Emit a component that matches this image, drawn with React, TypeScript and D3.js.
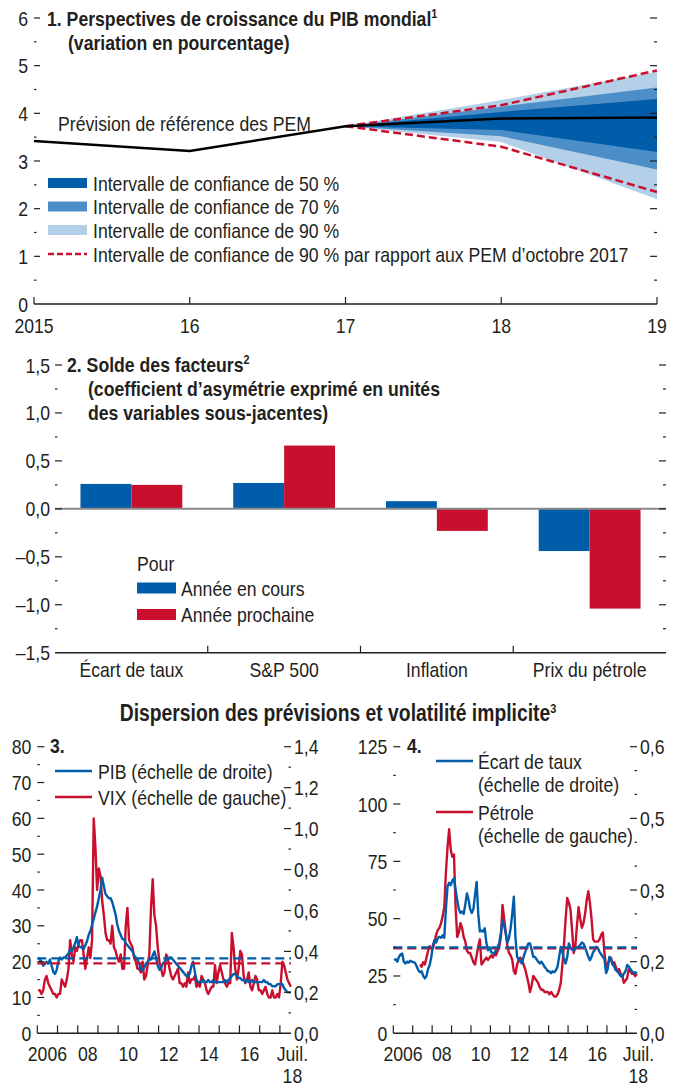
import { useEffect, useRef } from 'react';
import * as d3 from 'd3';

// No condensed face is installed, so Liberation Sans is squeezed horizontally after layout
const FONT = '"Liberation Sans", Arial, sans-serif';
const SQUEEZE = 0.84;
const INK = '#231f20';
const BLUE_DARK = '#005DAA';
const BLUE_MID = '#4C8FC8';
const BLUE_LIGHT = '#B4D0E8';
const RED = '#C8102E';
const GREY = '#8a8a8a';
const FS = 21;

// Panel 1: world GDP growth outlook
const P1_YEARS = [2015, 2016, 2017, 2018, 2019];
const P1_YEAR_LABELS = ['2015', '16', '17', '18', '19'];
const P1_BASELINE = [3.42, 3.21, 3.73, 3.89, 3.91];
const FAN_YEARS = [2017, 2018, 2019];
const CI90_LO = [3.73, 3.40, 2.20];
const CI90_HI = [3.73, 4.28, 4.87];
const CI70_LO = [3.73, 3.52, 2.82];
const CI70_HI = [3.73, 4.14, 4.54];
const CI50_LO = [3.73, 3.65, 3.19];
const CI50_HI = [3.73, 4.03, 4.30];
const OCT17_LO = [3.73, 3.30, 2.35];
const OCT17_HI = [3.73, 4.17, 4.90];
const P1_LEGEND = [
  'Intervalle de confiance de 50 %',
  'Intervalle de confiance de 70 %',
  'Intervalle de confiance de 90 %',
  'Intervalle de confiance de 90 % par rapport aux PEM d’octobre 2017',
];

// Panel 2: balance of risks
const P2_CATEGORIES = ['Écart de taux', 'S&P 500', 'Inflation', 'Prix du pétrole'];
const P2_SERIES = ['Année en cours', 'Année prochaine'];
const P2_CURRENT = [0.26, 0.27, 0.08, -0.44];
const P2_NEXT = [0.25, 0.66, -0.23, -1.04];

// Panels 3 and 4: monthly, Jan 2006 to Jul 2018
const X_TICK_YEARS = d3.range(2006, 2019);
const X_LABELS = ['2006', '08', '10', '12', '14', '16'];
const X_LABEL_YEARS = [2006, 2008, 2010, 2012, 2014, 2016];

const P3_LEFT_TICKS = [0, 10, 20, 30, 40, 50, 60, 70, 80];
const P3_RIGHT_TICKS = [0, 0.2, 0.4, 0.6, 0.8, 1.0, 1.2, 1.4];
const P3_RIGHT_LABELS = ['0,0', '0,2', '0,4', '0,6', '0,8', '1,0', '1,2', '1,4'];
const P4_LEFT_TICKS = [0, 25, 50, 75, 100, 125];
const P4_RIGHT_TICKS = [0, 0.15, 0.3, 0.45, 0.6];
const P4_RIGHT_LABELS = ['0,0', '0,2', '0,3', '0,5', '0,6'];

const VIX = [
  12, 12, 11, 12, 15, 16, 14, 13, 12, 11, 11, 10,
  11, 11, 15, 14, 13, 15, 18, 26, 22, 20, 24, 23,
  25, 26, 26, 22, 18, 21, 24, 21, 26, 60, 52, 40,
  46, 44, 37, 33, 28, 26, 26, 25, 30, 24, 23, 21,
  20, 22, 18, 18, 30, 35, 26, 25, 24, 21, 20, 18,
  18, 17, 20, 15, 16, 19, 22, 35, 43, 33, 30, 24,
  20, 18, 16, 17, 22, 21, 18, 16, 15, 16, 17, 18,
  14, 14, 13, 14, 13, 17, 14, 15, 15, 16, 13, 14,
  13, 16, 15, 14, 12, 11, 12, 13, 13, 19, 14, 17,
  19, 17, 15, 14, 13, 14, 14, 28, 24, 18, 15, 18,
  23, 22, 16, 14, 15, 17, 13, 12, 14, 16, 15, 12,
  12, 11, 12, 13, 11, 10, 10, 12, 10, 10, 11, 10,
  14, 20, 19, 17, 15, 14, 13,
];
const PIB = [
  0.37, 0.36, 0.35, 0.33, 0.34, 0.35, 0.34, 0.36, 0.33, 0.30, 0.29, 0.31,
  0.35, 0.37, 0.36, 0.37, 0.37, 0.38, 0.39, 0.41, 0.40, 0.42, 0.44, 0.47,
  0.43, 0.42, 0.42, 0.41, 0.43, 0.45, 0.48, 0.50, 0.53, 0.56, 0.59, 0.62,
  0.66, 0.70, 0.76, 0.72, 0.68, 0.67, 0.66, 0.66, 0.64, 0.61, 0.58, 0.53,
  0.50, 0.48, 0.46, 0.46, 0.44, 0.43, 0.42, 0.41, 0.40, 0.38, 0.37, 0.36,
  0.34, 0.31, 0.31, 0.32, 0.34, 0.35, 0.36, 0.36, 0.38, 0.40, 0.37, 0.33,
  0.31, 0.32, 0.34, 0.35, 0.36, 0.36, 0.37, 0.37, 0.36, 0.35, 0.34, 0.33,
  0.32, 0.31, 0.30, 0.29, 0.28, 0.28, 0.29, 0.33, 0.35, 0.30, 0.26, 0.25,
  0.25, 0.25, 0.26, 0.25, 0.25, 0.26, 0.25, 0.25, 0.26, 0.25, 0.25, 0.25,
  0.25, 0.25, 0.25, 0.26, 0.25, 0.26, 0.27, 0.28, 0.29, 0.29, 0.28, 0.27,
  0.27, 0.26, 0.26, 0.25, 0.26, 0.25, 0.25, 0.26, 0.25, 0.25, 0.25, 0.25,
  0.25, 0.25, 0.26, 0.25, 0.25, 0.24, 0.24, 0.23, 0.23, 0.23, 0.24, 0.24,
  0.24, 0.24, 0.22, 0.21, 0.20, 0.20, 0.20,
];
const VIX_AVG = 19.5;
const PIB_AVG = 0.366;

const OIL = [
  null, null, null, null, null, null, null, null, null, null, null, null,
  null, null, null, null, 30, 29, 31, 30, 33, 36, 38, 37,
  37, 40, 43, 45, 46, 48, 51, 55, 70, 81, 89, 80,
  77, 78, 55, 42, 44, 48, 46, 42, 40, 36, 35, 35,
  33, 31, 30, 34, 38, 41, 30, 31, 32, 33, 32, 33,
  34, 33, 35, 34, 36, 38, 42, 56, 50, 44, 38, 35,
  34, 32, 27, 26, 30, 32, 33, 32, 30, 28, 25, 22,
  18, 21, 25, 24, 23, 22, 20, 19, 19, 18, 18, 18,
  17, 18, 17, 16, 16, 17, 19, 22, 30, 39, 50, 59,
  57, 54, 45, 35, 38, 47, 55, 50, 46, 48, 52, 58,
  62, 57, 50, 41, 40, 40, 40, 41, 43, 44, 35, 29,
  30, 32, 33, 30, 31, 29, 27, 28, 26, 25, 22, 23,
  24, 28, 27, 26, 26, 25, 26,
];
const SPREAD = [
  0.153, 0.155, 0.150, 0.160, 0.165, 0.167, 0.150, 0.146, 0.150, 0.148, 0.152, 0.150,
  0.149, 0.147, 0.140, 0.132, 0.128, 0.130, 0.120, 0.115, 0.120, 0.135, 0.143, 0.160,
  0.185, 0.195, 0.190, 0.200, 0.202, 0.200, 0.205, 0.200, 0.260, 0.307, 0.315, 0.310,
  0.320, 0.324, 0.300, 0.279, 0.260, 0.252, 0.255, 0.250, 0.270, 0.293, 0.280, 0.260,
  0.252, 0.260, 0.290, 0.317, 0.250, 0.213, 0.215, 0.213, 0.220, 0.190, 0.174, 0.180,
  0.170, 0.168, 0.167, 0.175, 0.180, 0.190, 0.210, 0.237, 0.225, 0.209, 0.190, 0.200,
  0.220, 0.250, 0.286, 0.200, 0.160, 0.155, 0.150, 0.146, 0.160, 0.170, 0.180, 0.188,
  0.188, 0.175, 0.160, 0.160, 0.155, 0.150, 0.146, 0.150, 0.145, 0.139, 0.135, 0.130,
  0.130, 0.126, 0.130, 0.128, 0.132, 0.140, 0.160, 0.181, 0.170, 0.155, 0.146, 0.160,
  0.188, 0.180, 0.175, 0.174, 0.178, 0.180, 0.181, 0.185, 0.190, 0.188, 0.180, 0.170,
  0.160, 0.153, 0.160, 0.170, 0.175, 0.181, 0.178, 0.170, 0.165, 0.160, 0.155, 0.126,
  0.135, 0.160, 0.155, 0.145, 0.140, 0.132, 0.130, 0.125, 0.120, 0.118, 0.125, 0.130,
  0.143, 0.140, 0.135, 0.130, 0.126, 0.128, 0.125,
];
const OIL_AVG = 37;
const SPREAD_AVG = 0.18;

type Sel = d3.Selection<SVGGElement, unknown, null, undefined>;

const fmtNum = (v: number, digits: number) => {
  const s = d3.format(`.${digits}f`)(Math.abs(v)).replace('.', ',');
  return v < 0 ? `–${s}` : s;
};

function label(g: Sel, x: number, y: number, str: string, anchor = 'start', bold = false, size = FS) {
  return g.append('text')
    .attr('x', x).attr('y', y)
    .attr('text-anchor', anchor)
    .attr('font-family', FONT)
    .attr('font-size', size)
    .attr('font-weight', bold ? 700 : 400)
    .attr('fill', INK)
    .text(str);
}

function titleWithSup(g: Sel, x: number, y: number, str: string, sup: string, anchor = 'start', size = FS) {
  const t = label(g, x, y, str, anchor, true, size);
  t.append('tspan').attr('font-size', 13).attr('dy', -8).text(sup);
  return t;
}

// tick marks drawn inward from an axis at x = ax (dir = +1 right, -1 left)
function yTicks(g: Sel, scale: d3.ScaleLinear<number, number>, values: number[], ax: number, dir: number, len: number) {
  g.append('g')
    .selectAll('line')
    .data(values)
    .join('line')
    .attr('x1', ax).attr('x2', ax + dir * len)
    .attr('y1', d => scale(d)).attr('y2', d => scale(d))
    .attr('stroke', INK)
    .attr('stroke-width', 1.2);
}

function yLabels(g: Sel, scale: d3.ScaleLinear<number, number>, values: number[], x: number, anchor: string, text: (d: number, i: number) => string) {
  g.append('g')
    .selectAll('text')
    .data(values)
    .join('text')
    .attr('x', x).attr('y', d => scale(d) + 7.5)
    .attr('text-anchor', anchor)
    .attr('font-family', FONT)
    .attr('font-size', FS)
    .attr('fill', INK)
    .text((d, i) => text(d, i));
}

function drawPanel1(g: Sel) {
  const x = d3.scaleLinear().domain([2015, 2019]).range([34, 657]);
  const y = d3.scaleLinear().domain([0, 6]).range([304, 18]);

  const band = (lo: number[], hi: number[]) => d3.area<number>()
    .x(d => x(d))
    .y0((_, i) => y(lo[i]))
    .y1((_, i) => y(hi[i]));

  g.append('path').datum(FAN_YEARS).attr('d', band(CI90_LO, CI90_HI)).attr('fill', BLUE_LIGHT);
  g.append('path').datum(FAN_YEARS).attr('d', band(CI70_LO, CI70_HI)).attr('fill', BLUE_MID);
  g.append('path').datum(FAN_YEARS).attr('d', band(CI50_LO, CI50_HI)).attr('fill', BLUE_DARK);

  const fanLine = (vals: number[]) => d3.line<number>().x(d => x(d)).y((_, i) => y(vals[i]));
  [OCT17_LO, OCT17_HI].forEach(vals => {
    g.append('path').datum(FAN_YEARS).attr('d', fanLine(vals))
      .attr('fill', 'none').attr('stroke', RED).attr('stroke-width', 2.5)
      .attr('stroke-dasharray', '8,4');
  });

  g.append('path').datum(P1_YEARS)
    .attr('d', d3.line<number>().x(d => x(d)).y((_, i) => y(P1_BASELINE[i])))
    .attr('fill', 'none').attr('stroke', '#000').attr('stroke-width', 2.5);

  // axes
  const major = d3.range(1, 7);
  const minor = d3.range(0.5, 6, 1);
  yTicks(g, y, major, 34, 1, 6);
  yTicks(g, y, minor, 34, 1, 2.5);
  yTicks(g, y, major, 657, -1, 7);
  yTicks(g, y, minor, 657, -1, 3);
  yLabels(g, y, d3.range(0, 7), 28, 'end', d => `${d}`);

  g.append('line').attr('x1', 34).attr('x2', 657).attr('y1', y(0)).attr('y2', y(0))
    .attr('stroke', INK).attr('stroke-width', 1.5);
  g.append('g').selectAll('line').data(P1_YEARS).join('line')
    .attr('x1', d => x(d)).attr('x2', d => x(d))
    .attr('y1', y(0)).attr('y2', y(0) - 7)
    .attr('stroke', INK).attr('stroke-width', 1.2);
  g.append('g').selectAll('text').data(P1_YEARS).join('text')
    .attr('x', d => x(d)).attr('y', 333)
    .attr('text-anchor', 'middle')
    .attr('font-family', FONT).attr('font-size', FS).attr('fill', INK)
    .text((_, i) => P1_YEAR_LABELS[i]);

  // titles
  titleWithSup(g, 47, 26, '1. Perspectives de croissance du PIB mondial', '1');
  label(g, 68, 50, '(variation en pourcentage)', 'start', true);
  label(g, 58, 131, 'Prévision de référence des PEM');

  // legend
  const rows = [183, 206.5, 230, 254];
  const fills = [BLUE_DARK, BLUE_MID, BLUE_LIGHT];
  fills.forEach((c, i) => {
    g.append('rect').attr('x', 48).attr('y', rows[i] - 5).attr('width', 39).attr('height', 10).attr('fill', c);
  });
  g.append('line').attr('x1', 48).attr('x2', 87).attr('y1', rows[3]).attr('y2', rows[3])
    .attr('stroke', RED).attr('stroke-width', 2.5).attr('stroke-dasharray', '6,3');
  P1_LEGEND.forEach((t, i) => label(g, 93, rows[i] + 7.5, t));
}

function drawPanel2(g: Sel) {
  const x0 = d3.scaleBand().domain(P2_CATEGORIES).range([55, 666]);
  const x1 = d3.scaleBand().domain(P2_SERIES).range([0, x0.bandwidth()]).paddingOuter(0.5);
  const y = d3.scaleLinear().domain([-1.5, 1.5]).range([652.7, 365]);

  const series = [P2_CURRENT, P2_NEXT];
  const colors = [BLUE_DARK, RED];
  series.forEach((vals, si) => {
    g.append('g').selectAll('rect').data(vals).join('rect')
      .attr('x', (_, i) => (x0(P2_CATEGORIES[i]) ?? 0) + (x1(P2_SERIES[si]) ?? 0))
      .attr('width', x1.bandwidth())
      .attr('y', d => y(Math.max(0, d)))
      .attr('height', d => Math.abs(y(d) - y(0)))
      .attr('fill', colors[si]);
  });

  g.append('line').attr('x1', 55).attr('x2', 666).attr('y1', y(0)).attr('y2', y(0))
    .attr('stroke', GREY).attr('stroke-width', 2);

  const major = d3.range(-1, 1.51, 0.5);
  const minor = d3.range(-1.25, 1.5, 0.5);
  yTicks(g, y, major, 55, 1, 7);
  yTicks(g, y, minor, 55, 1, 2.5);
  yTicks(g, y, major, 666, -1, 7);
  yTicks(g, y, minor, 666, -1, 3);
  yLabels(g, y, d3.range(-1.5, 1.51, 0.5), 50, 'end', d => fmtNum(d, 1));

  g.append('line').attr('x1', 55).attr('x2', 666).attr('y1', y(-1.5)).attr('y2', y(-1.5))
    .attr('stroke', INK).attr('stroke-width', 1.5);
  g.append('g').selectAll('line').data(P2_CATEGORIES.slice(1)).join('line')
    .attr('x1', d => x0(d) ?? 0).attr('x2', d => x0(d) ?? 0)
    .attr('y1', y(-1.5)).attr('y2', y(-1.5) - 7)
    .attr('stroke', INK).attr('stroke-width', 1.2);
  g.append('g').selectAll('text').data(P2_CATEGORIES).join('text')
    .attr('x', d => (x0(d) ?? 0) + x0.bandwidth() / 2).attr('y', 677)
    .attr('text-anchor', 'middle')
    .attr('font-family', FONT).attr('font-size', FS).attr('fill', INK)
    .text(d => d);

  titleWithSup(g, 67, 372, '2. Solde des facteurs', '2');
  label(g, 88, 396, '(coefficient d’asymétrie exprimé en unités', 'start', true);
  label(g, 88, 419.5, 'des variables sous-jacentes)', 'start', true);

  label(g, 137, 571, 'Pour');
  const rows = [588, 614.5];
  P2_SERIES.forEach((s, i) => {
    g.append('rect').attr('x', 137).attr('y', rows[i] - 5.5).attr('width', 39).attr('height', 11).attr('fill', colors[i]);
    label(g, 181, rows[i] + 7.5, s);
  });
}

interface TsOpts {
  left: number;
  right: number;
  ticksL: number[];
  ticksR: number[];
  labelsR: string[];
  redVals: (number | null)[];
  blueVals: number[];
  redAvg: number;
  blueAvg: number;
}

function drawTimePanel(g: Sel, o: TsOpts) {
  const maxL = o.ticksL[o.ticksL.length - 1];
  const maxR = o.ticksR[o.ticksR.length - 1];
  const x = d3.scaleLinear().domain([2006, 2018.55]).range([o.left, o.right]);
  const yL = d3.scaleLinear().domain([0, maxL]).range([1033.3, 746.7]);
  const yR = d3.scaleLinear().domain([0, maxR]).range([1033.3, 746.7]);
  const t = (i: number) => 2006 + (i + 0.5) / 12;

  g.append('path').datum(o.redVals)
    .attr('d', d3.line<number | null>().defined(d => d != null).x((_, i) => x(t(i))).y(d => yL(d as number)))
    .attr('fill', 'none').attr('stroke', RED).attr('stroke-width', 2.4).attr('stroke-linejoin', 'round');
  g.append('path').datum(o.blueVals)
    .attr('d', d3.line<number>().x((_, i) => x(t(i))).y(d => yR(d)))
    .attr('fill', 'none').attr('stroke', BLUE_DARK).attr('stroke-width', 2.4).attr('stroke-linejoin', 'round');

  g.append('line').attr('x1', o.left).attr('x2', o.right).attr('y1', yL(o.redAvg)).attr('y2', yL(o.redAvg))
    .attr('stroke', RED).attr('stroke-width', 2.2).attr('stroke-dasharray', '9,5');
  g.append('line').attr('x1', o.left).attr('x2', o.right).attr('y1', yR(o.blueAvg)).attr('y2', yR(o.blueAvg))
    .attr('stroke', BLUE_DARK).attr('stroke-width', 2.2).attr('stroke-dasharray', '9,5');

  // minor ticks sit half way between the major ones (every 0.05 on panel 4's right scale)
  const stepL = o.ticksL[1] - o.ticksL[0];
  const minorL = o.ticksL.slice(1).map(v => v - stepL / 2);
  const minorR = maxR > 1
    ? o.ticksR.slice(1).map(v => v - 0.1)
    : d3.range(0.05, maxR, 0.05).filter(v => !o.ticksR.some(m => Math.abs(m - v) < 1e-6));
  yTicks(g, yL, o.ticksL.slice(1), o.left, 1, 7);
  yTicks(g, yL, minorL, o.left, 1, 2.5);
  yTicks(g, yR, o.ticksR.slice(1), o.right, -1, 7);
  yTicks(g, yR, minorR, o.right, -1, 2.5);
  yLabels(g, yL, o.ticksL, o.left - 6, 'end', d => `${d}`);
  yLabels(g, yR, o.ticksR, o.right + 3, 'start', (_, i) => o.labelsR[i]);

  g.append('line').attr('x1', o.left).attr('x2', o.right).attr('y1', yL(0)).attr('y2', yL(0))
    .attr('stroke', INK).attr('stroke-width', 1.5);
  g.append('g').selectAll('line').data(X_TICK_YEARS).join('line')
    .attr('x1', d => x(d)).attr('x2', d => x(d))
    .attr('y1', yL(0)).attr('y2', yL(0) - 8)
    .attr('stroke', INK).attr('stroke-width', 1.2);
  g.append('g').selectAll('text').data(X_LABEL_YEARS).join('text')
    .attr('x', d => x(d + 0.5)).attr('y', 1061)
    .attr('text-anchor', 'middle')
    .attr('font-family', FONT).attr('font-size', FS).attr('fill', INK)
    .text((_, i) => X_LABELS[i]);
  label(g, x(2018.62), 1061, 'Juil.', 'middle');
  label(g, x(2018.62), 1082.5, '18', 'middle');
}

function drawPanels34(g: Sel) {
  titleWithSup(g, 338, 721, 'Dispersion des prévisions et volatilité implicite', '3', 'middle', 23);

  // panel 3
  drawTimePanel(g, {
    left: 37.3, right: 291,
    ticksL: P3_LEFT_TICKS, ticksR: P3_RIGHT_TICKS, labelsR: P3_RIGHT_LABELS,
    redVals: VIX, blueVals: PIB, redAvg: VIX_AVG, blueAvg: PIB_AVG,
  });
  label(g, 50, 753, '3.', 'start', true);
  g.append('line').attr('x1', 55).attr('x2', 92).attr('y1', 771).attr('y2', 771).attr('stroke', BLUE_DARK).attr('stroke-width', 2.5);
  label(g, 98, 778.5, 'PIB (échelle de droite)');
  g.append('line').attr('x1', 55).attr('x2', 92).attr('y1', 797).attr('y2', 797).attr('stroke', RED).attr('stroke-width', 2.5);
  label(g, 98, 804.5, 'VIX (échelle de gauche)');

  // panel 4
  drawTimePanel(g, {
    left: 393.3, right: 637,
    ticksL: P4_LEFT_TICKS, ticksR: P4_RIGHT_TICKS, labelsR: P4_RIGHT_LABELS,
    redVals: OIL, blueVals: SPREAD, redAvg: OIL_AVG, blueAvg: SPREAD_AVG,
  });
  label(g, 407, 753, '4.', 'start', true);
  g.append('line').attr('x1', 436).attr('x2', 473).attr('y1', 761).attr('y2', 761).attr('stroke', BLUE_DARK).attr('stroke-width', 2.5);
  label(g, 478, 768.5, 'Écart de taux');
  label(g, 478, 792, '(échelle de droite)');
  g.append('line').attr('x1', 436).attr('x2', 473).attr('y1', 812).attr('y2', 812).attr('stroke', RED).attr('stroke-width', 2.5);
  label(g, 478, 819.5, 'Pétrole');
  label(g, 478, 843, '(échelle de gauche)');
}

export default function App() {
  const svgRef = useRef<SVGSVGElement>(null);

  useEffect(() => {
    if (!svgRef.current) return;
    document.body.style.margin = '0';
    const svg = d3.select(svgRef.current);
    svg.selectAll('*').remove();
    const root = svg.append('g') as unknown as Sel;
    drawPanel1(root.append('g'));
    drawPanel2(root.append('g'));
    drawPanels34(root.append('g'));

    // emulate a condensed face
    svg.selectAll<SVGTextElement, unknown>('text').each(function () {
      const w = this.getComputedTextLength();
      this.setAttribute('textLength', String(w * SQUEEZE));
      this.setAttribute('lengthAdjust', 'spacingAndGlyphs');
    });
  }, []);

  return <svg ref={svgRef} width={680} height={1084} style={{ display: 'block', background: '#fff' }} />;
}
